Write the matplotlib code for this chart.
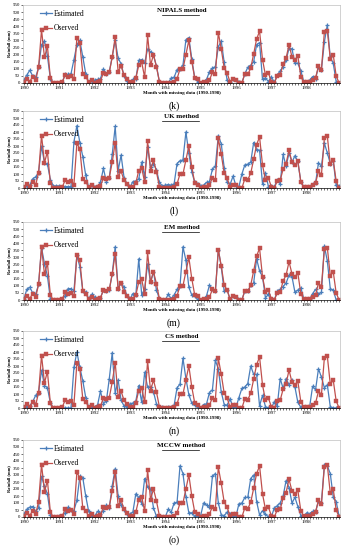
import numpy as np
import matplotlib
matplotlib.use("Agg")
import matplotlib.pyplot as plt

plt.rcParams['font.family'] = ['Liberation Serif', 'DejaVu Serif']

# observed monthly rainfall (mm), Jan 1990 - Dec 1998
observed = [10, 30, 10, 45, 20, 110, 375, 180, 260, 35, 0, 0,
            0, 5, 55, 45, 50, 25, 320, 280, 65, 45, 5, 20,
            0, 5, 15, 70, 65, 75, 185, 325, 80, 120, 55, 30,
            5, 10, 35, 125, 145, 40, 335, 125, 200, 115, 10, 0,
            0, 0, 0, 10, 30, 100, 100, 200, 300, 150, 35, 25,
            0, 5, 10, 20, 75, 60, 355, 240, 105, 70, 5, 25,
            20, 0, 0, 65, 60, 105, 205, 310, 365, 165, 55, 70,
            10, 0, 50, 55, 135, 175, 270, 185, 165, 190, 45, 5,
            5, 5, 20, 35, 120, 95, 360, 370, 170, 200, 50, 0]

nipals = [20, 55, 90, 50, 40, 110, 270, 295, 190, 30, 0, 0,
          0, 5, 60, 60, 65, 165, 270, 300, 185, 65, 5, 15,
          20, 25, 30, 100, 65, 80, 185, 300, 175, 135, 50, 15,
          10, 25, 30, 160, 165, 140, 240, 220, 195, 120, 10, 0,
          0, 0, 35, 40, 95, 100, 125, 305, 320, 170, 35, 10,
          0, 10, 25, 80, 105, 115, 255, 295, 145, 20, 10, 30,
          20, 5, 0, 65, 110, 125, 150, 270, 285, 25, 35, 10,
          45, 5, 55, 85, 115, 160, 245, 240, 140, 140, 85, 10,
          10, 20, 45, 30, 115, 95, 290, 410, 180, 140, 10, 0]

uk = [5, 15, 20, 65, 80, 110, 300, 180, 170, 60, 15, 15,
      15, 10, 10, 10, 10, 330, 445, 325, 225, 90, 5, 20,
      5, 10, 40, 140, 45, 75, 240, 440, 125, 235, 75, 30,
      5, 45, 50, 65, 185, 80, 290, 150, 175, 130, 40, 15,
      20, 25, 20, 30, 175, 195, 200, 400, 250, 115, 40, 30,
      15, 20, 40, 45, 135, 155, 375, 315, 145, 45, 25, 85,
      15, 10, 100, 165, 170, 185, 325, 275, 270, 30, 110, 10,
      15, 10, 55, 30, 240, 155, 250, 185, 230, 190, 45, 10,
      10, 10, 30, 35, 180, 155, 320, 250, 175, 195, 20, 15]

em = [5, 75, 90, 50, 40, 110, 370, 255, 170, 5, 0, 0,
      0, 5, 30, 80, 80, 65, 315, 235, 65, 55, 10, 40,
      20, 15, 15, 70, 65, 70, 185, 375, 80, 120, 90, 30,
      5, 45, 35, 290, 35, 80, 255, 125, 200, 70, 10, 0,
      0, 40, 10, 35, 75, 100, 375, 280, 90, 35, 25, 5,
      0, 5, 30, 105, 75, 60, 355, 235, 60, 70, 5, 25,
      20, 0, 0, 65, 60, 105, 120, 290, 205, 165, 15, 40,
      5, 0, 60, 75, 95, 120, 175, 165, 55, 70, 85, 10,
      0, 5, 45, 75, 40, 55, 380, 275, 80, 70, 0, 0]

cs = [5, 10, 15, 45, 90, 110, 270, 160, 145, 35, 0, 0,
      0, 0, 0, 0, 0, 290, 400, 290, 195, 75, 5, 0,
      10, 20, 120, 30, 50, 210, 395, 105, 200, 55, 15, 10,
      30, 35, 50, 160, 40, 255, 150, 150, 115, 30, 10, 5,
      0, 10, 5, 20, 145, 170, 355, 210, 95, 35, 25, 5,
      0, 25, 30, 110, 130, 340, 280, 115, 25, 20, 65, 5,
      5, 75, 140, 150, 175, 300, 240, 240, 15, 90, 10, 0,
      0, 45, 15, 210, 140, 210, 165, 200, 150, 40, 5, 0,
      5, 10, 155, 130, 280, 220, 145, 165, 10, 0, 0, 0]

mccw = [20, 55, 70, 75, 40, 65, 290, 220, 165, 15, 0, 0,
        5, 10, 30, 70, 50, 45, 120, 290, 280, 150, 40, 5,
        5, 40, 25, 45, 85, 65, 225, 345, 150, 85, 50, 20,
        20, 35, 165, 140, 95, 275, 215, 200, 65, 5, 0, 0,
        0, 55, 35, 100, 105, 365, 310, 145, 30, 30, 5, 5,
        10, 100, 85, 75, 290, 310, 100, 15, 10, 35, 25, 0,
        5, 95, 100, 140, 140, 275, 300, 110, 15, 45, 20, 0,
        0, 65, 80, 100, 150, 260, 210, 100, 140, 75, 10, 0,
        30, 25, 40, 35, 115, 100, 375, 365, 310, 145, 110, 5]

methods = ["NIPALS method", "UK method", "EM method", "CS method", "MCCW method"]
estimates = [nipals, uk, em, cs, mccw]
letters = ["(k)", "(l)", "(m)", "(n)", "(o)"]
years = ["1990", "1991", "1992", "1993", "1994", "1995", "1996", "1997", "1998"]

# panel plot-area tops / bottoms in pixels (of 550)
tops = [5, 111, 222, 331, 440]
bots = [83, 188, 300, 408, 517]

blue = "#4a7ebb"
red = "#c0504d"

fig = plt.figure(figsize=(3.48, 5.5), dpi=100)
x = np.arange(len(observed))

for i in range(5):
    b = 1 - bots[i] / 550
    h = (bots[i] - tops[i]) / 550
    ax = fig.add_axes([0.066, b, 0.911, h])
    ax.plot(x, estimates[i], color=blue, lw=0.9, marker='+', ms=3.5, mew=0.9, label="Estimated")
    ax.plot(x, observed, color=red, lw=0.9, marker='s', ms=2.8, mew=0.3, label="Oserved")
    ax.set_xlim(-0.3, 107.3)
    ax.set_ylim(0, 550)
    ax.set_yticks(np.arange(0, 551, 50))
    ax.set_xticks(np.arange(0, 108, 12))
    ax.set_xticklabels(years)
    ax.set_xticks(np.arange(0, 108, 1), minor=True)
    ax.tick_params(axis='both', labelsize=3.5, length=1.2, width=0.4, pad=1)
    ax.tick_params(axis='x', which='minor', length=1.2, width=0.4)
    for s in ['top', 'right', 'left']:
        ax.spines[s].set_color('#bfbfbf')
        ax.spines[s].set_linewidth(0.5)
    ax.spines['bottom'].set_color('black')
    ax.spines['bottom'].set_linewidth(0.5)
    ax.set_ylabel("Rainfall (mm)", fontsize=3.2, fontweight='bold', labelpad=1)
    ax.set_xlabel("Month with missing data (1990-1998)", fontsize=3.5, fontweight='bold', labelpad=1)
    ax.text(0.5, 0.93, methods[i], transform=ax.transAxes, ha='center', va='center',
            fontsize=5, fontweight='bold')
    # underline under the title
    ax.plot([0.44, 0.555], [0.875, 0.875], transform=ax.transAxes, color='black', lw=0.5)
    ax.legend(loc='upper left', bbox_to_anchor=(0.035, 1.02), fontsize=5.5, frameon=False,
              handlelength=1.6, labelspacing=0.9, borderpad=0.3, handletextpad=0.2)
    fig.text(0.5, 1 - (bots[i] + 23) / 550, letters[i], ha='center', va='center', fontsize=7)

fig.savefig("out.png", dpi=100)
